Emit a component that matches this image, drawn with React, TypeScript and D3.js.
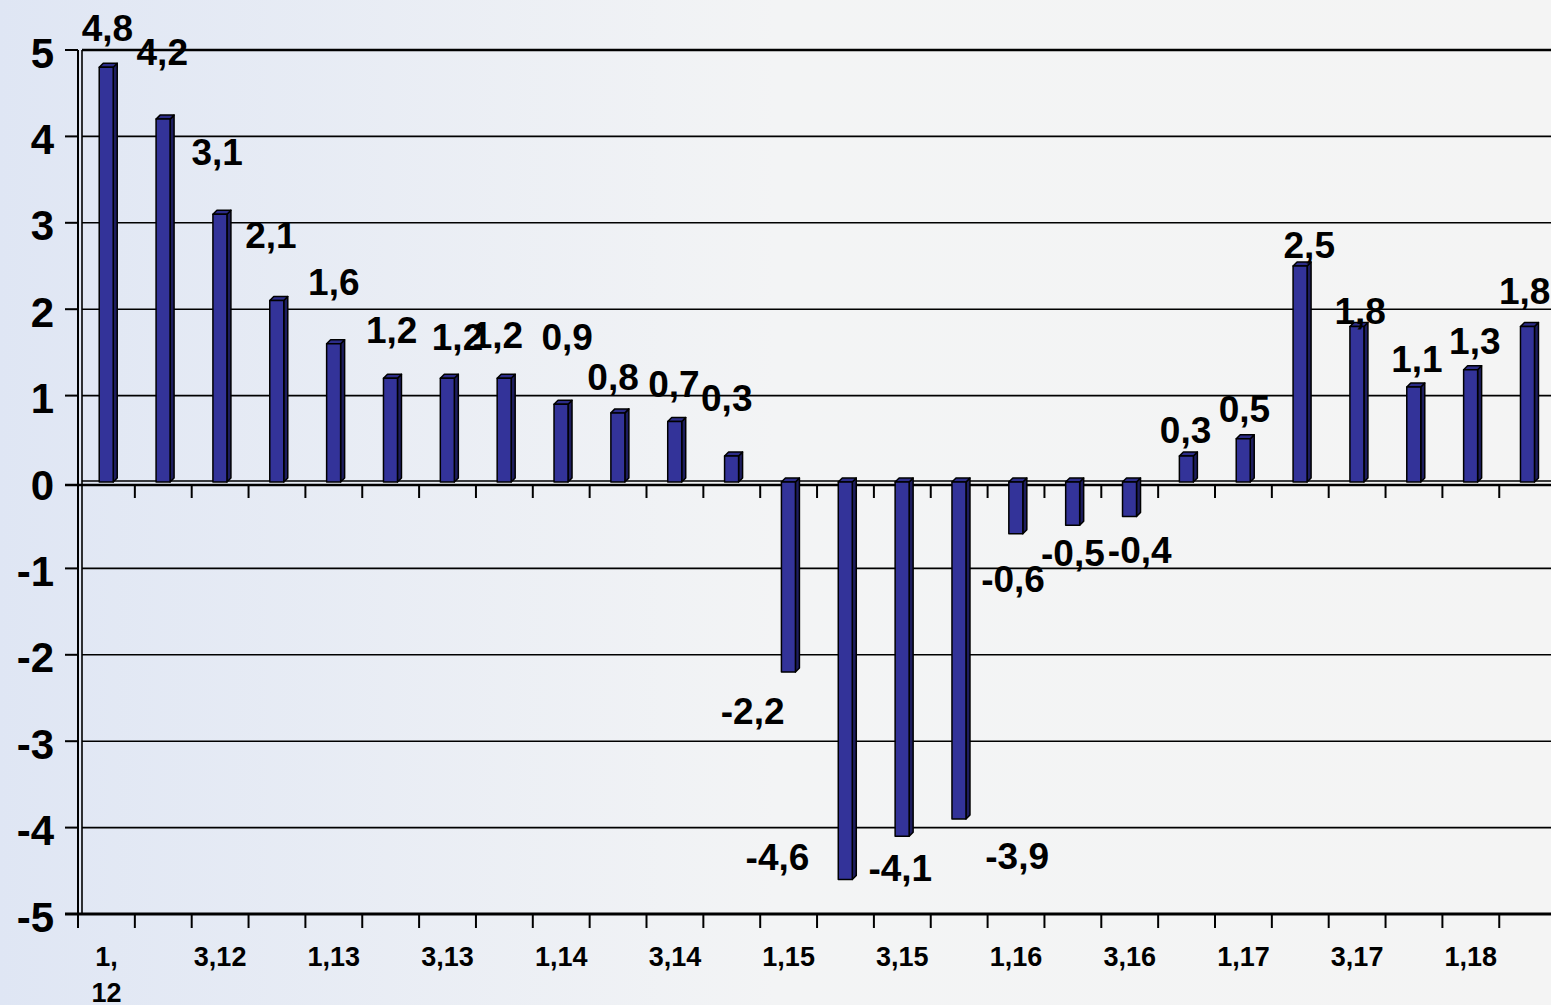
import React from "react";
import * as d3 from "d3";

// ---- data ----
const categories = [
  "1,12", "2,12", "3,12", "4,12", "1,13", "2,13", "3,13", "4,13",
  "1,14", "2,14", "3,14", "4,14", "1,15", "2,15", "3,15", "4,15",
  "1,16", "2,16", "3,16", "4,16", "1,17", "2,17", "3,17", "4,17",
  "1,18", "2,18",
];
const values = [
  4.8, 4.2, 3.1, 2.1, 1.6, 1.2, 1.2, 1.2, 0.9, 0.8, 0.7, 0.3,
  -2.2, -4.6, -4.1, -3.9, -0.6, -0.5, -0.4, 0.3, 0.5, 2.5, 1.8, 1.1, 1.3, 1.8,
];
const yTicks = [5, 4, 3, 2, 1, 0, -1, -2, -3, -4, -5];
// label placement offsets (layout, px) relative to bar end
const labelDx = [1, -1, -3, -6, 0, 1, 10, -7, 6, -5, -1, -5, -36, -68, -2, 58, -3, 0, 10, -1, 1, 9, 3, 3, 4, -3];
const labelDy = [-39, -67, -62, -65, -61, -48, -41, -43, -67, -35, -37, -58, 39, -22, 32, 38, 46, 28, 34, -26, -29, -21, -15, -27, -28, -35];

const W = 1551;
const H = 1005;
const left = 78;
const step = 56.85;
const right = left + step * categories.length;
const depth = 4;
const frontW = 14;

const fmt = (v: number) => String(v).replace(".", ",");

export default function App() {
  const x = d3
    .scaleBand<string>()
    .domain(categories)
    .range([left, right])
    .paddingInner(0)
    .paddingOuter(0);
  const y = d3.scaleLinear().domain([-5, 5]).range([914, 50]);
  const y0 = y(0);
  const bw = x.bandwidth();
  const font = "'Liberation Sans', Arial, sans-serif";

  const boundaries = d3.range(categories.length + 1).map((k) => left + k * bw);

  return (
    <svg
      width={W}
      height={H}
      style={{ position: "absolute", left: 0, top: 0, display: "block" }}
      fontFamily={font}
    >
      <defs>
        <linearGradient id="bg" x1="0" y1="0" x2="1" y2="0">
          <stop offset="0" stopColor="#dfe6f4" />
          <stop offset="0.5" stopColor="#f3f4f5" />
          <stop offset="1" stopColor="#f4f4f4" />
        </linearGradient>
      </defs>
      <rect x={0} y={0} width={W} height={H} fill="url(#bg)" />

      {/* back-wall gridlines */}
      {yTicks.map((t) => {
        if (t === -5) return null;
        const yy = t === 0 ? y0 - 1 : y(t);
        return (
          <line
            key={"g" + t}
            x1={left + depth}
            x2={W}
            y1={yy}
            y2={yy}
            stroke="#000"
            strokeWidth={t === 5 ? 2.5 : 1.6}
          />
        );
      })}
      {/* left wall */}
      <line x1={left} x2={left} y1={y(5)} y2={y(-5)} stroke="#000" strokeWidth={2} />
      <line x1={left + depth} x2={left + depth} y1={y(5)} y2={y(-5)} stroke="#000" strokeWidth={1.6} />

      {/* y ticks */}
      {yTicks.map((t) => (
        <line key={"yt" + t} x1={65} x2={left} y1={y(t) + (t === 0 ? 3 : 0)} y2={y(t) + (t === 0 ? 3 : 0)} stroke="#000" strokeWidth={2} />
      ))}
      {yTicks.map((t) => (
        <text
          key={"yl" + t}
          x={54}
          y={y(t) + 3}
          textAnchor="end"
          dominantBaseline="central"
          fontSize={42}
          fontWeight="bold"
          fill="#000"
        >
          {t}
        </text>
      ))}

      {/* zero axis (front) */}
      <line x1={65} x2={W} y1={y0 + 3} y2={y0 + 3} stroke="#000" strokeWidth={2.5} />
      {boundaries.slice(1).map((bx, k) => (
        <line key={"zt" + k} x1={bx} x2={bx} y1={y0 + 3} y2={y0 + 16} stroke="#000" strokeWidth={2} />
      ))}

      {/* bottom axis */}
      <line x1={65} x2={W} y1={y(-5)} y2={y(-5)} stroke="#000" strokeWidth={3} />
      {boundaries.map((bx, k) => (
        <line key={"bt" + k} x1={bx} x2={bx} y1={y(-5)} y2={y(-5) + 14} stroke="#000" strokeWidth={2} />
      ))}

      {/* bars */}
      {values.map((v, i) => {
        const c = (x(categories[i]) as number) + bw / 2;
        const fx0 = c - 7.2;
        const fx1 = fx0 + frontW;
        const yv = y(v);
        const top = Math.min(yv, y0);
        const bot = Math.max(yv, y0);
        const side = `M${fx1},${top} L${fx1 + depth},${top - depth} L${fx1 + depth},${bot - depth} L${fx1},${bot} Z`;
        const topFace = `M${fx0},${top} L${fx0 + depth},${top - depth} L${fx1 + depth},${top - depth} L${fx1},${top} Z`;
        return (
          <g key={"b" + i} stroke="#000" strokeWidth={1.5} strokeLinejoin="round">
            <path d={side} fill="#1d1d5e" />
            <path d={topFace} fill="#2c2c88" />
            <rect x={fx0} y={top} width={frontW} height={bot - top} fill="#333399" />
          </g>
        );
      })}

      {/* data labels */}
      {values.map((v, i) => {
        const c = (x(categories[i]) as number) + bw / 2;
        return (
          <text
            key={"dl" + i}
            x={c + labelDx[i]}
            y={y(v) + labelDy[i]}
            textAnchor="middle"
            dominantBaseline="central"
            fontSize={37}
            fontWeight="bold"
            fill="#000"
          >
            {fmt(v)}
          </text>
        );
      })}

      {/* category labels */}
      {categories.map((cat, i) => {
        if (i % 2 !== 0) return null;
        const c = (x(cat) as number) + bw / 2;
        if (i === 0) {
          const parts = cat.split(",");
          return (
            <text key={"xl" + i} x={c} y={966} textAnchor="middle" fontSize={27} fontWeight="bold" fill="#000">
              <tspan x={c}>{parts[0] + ","}</tspan>
              <tspan x={c} dy={36}>{parts[1]}</tspan>
            </text>
          );
        }
        return (
          <text key={"xl" + i} x={c} y={966} textAnchor="middle" fontSize={27} fontWeight="bold" fill="#000">
            {cat}
          </text>
        );
      })}
    </svg>
  );
}
